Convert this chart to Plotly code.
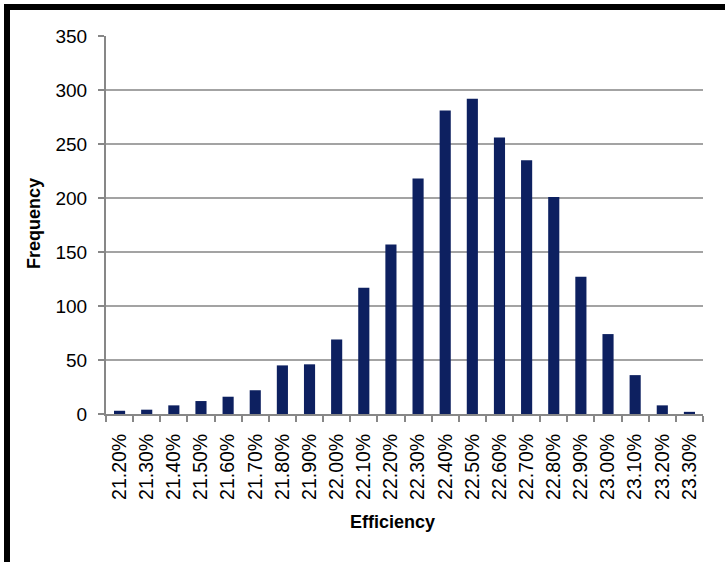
import plotly.graph_objects as go

# Efficiency bins and how many cells fell into each
efficiency_bins = ["21.20%", "21.30%", "21.40%", "21.50%", "21.60%", "21.70%",
                   "21.80%", "21.90%", "22.00%", "22.10%", "22.20%", "22.30%",
                   "22.40%", "22.50%", "22.60%", "22.70%", "22.80%", "22.90%",
                   "23.00%", "23.10%", "23.20%", "23.30%"]
frequency = [3, 4, 8, 12, 16, 22, 45, 46, 69, 117, 157, 218,
             281, 292, 256, 235, 201, 127, 74, 36, 8, 2]
y_ticks = [0, 50, 100, 150, 200, 250, 300, 350]

W, H = 725, 562
L, R, T, B = 106, 22, 36, 148
PW, PH = W - L - R, H - T - B

FONT = "Liberation Sans, Arial, sans-serif"
AXIS_GREY = "#878787"
GRID_GREY = "#a3a3a3"


def px_x(x):
    return (x - L) / PW


def px_y(y):
    return 1 - (y - T) / PH


fig = go.Figure(
    go.Bar(
        x=efficiency_bins,
        y=frequency,
        marker=dict(color="#0d2060", line=dict(width=0)),
    )
)

fig.update_layout(
    width=W,
    height=H,
    margin=dict(l=L, r=R, t=T, b=B, pad=0),
    paper_bgcolor="white",
    plot_bgcolor="white",
    bargap=0.59,
    showlegend=False,
    font=dict(family=FONT, size=19, color="black"),
)

fig.update_xaxes(
    type="category",
    tickangle=-90,
    showline=True,
    linecolor=AXIS_GREY,
    linewidth=2,
    ticks="outside",
    tickson="boundaries",
    ticklen=6,
    tickwidth=2,
    tickcolor=AXIS_GREY,
    showgrid=False,
    tickfont=dict(size=19.5),
    ticklabelstandoff=10,
)

fig.update_yaxes(
    range=[0, 350],
    tickvals=y_ticks,
    showline=True,
    linecolor=AXIS_GREY,
    linewidth=2,
    ticks="outside",
    ticklen=6,
    tickwidth=2,
    tickcolor=AXIS_GREY,
    showgrid=True,
    gridcolor=GRID_GREY,
    gridwidth=2,
    zeroline=False,
    tickfont=dict(size=19),
    ticklabelstandoff=7,
)

# Axis titles
fig.add_annotation(
    text="<b>Frequency</b>", textangle=-90,
    x=px_x(34), y=px_y(224), xref="paper", yref="paper",
    xanchor="center", yanchor="middle",
    showarrow=False, font=dict(size=18, family=FONT),
)
fig.add_annotation(
    text="<b>Efficiency</b>",
    x=px_x(392), y=px_y(522), xref="paper", yref="paper",
    xanchor="center", yanchor="middle",
    showarrow=False, font=dict(size=18, family=FONT),
)

# Black frame along the top and left edges
fig.add_shape(type="rect", xref="paper", yref="paper",
              x0=px_x(4), x1=px_x(W + 5), y0=px_y(10), y1=px_y(4),
              fillcolor="black", line=dict(width=0), layer="above")
fig.add_shape(type="rect", xref="paper", yref="paper",
              x0=px_x(4), x1=px_x(10), y0=px_y(H + 5), y1=px_y(4),
              fillcolor="black", line=dict(width=0), layer="above")

fig.write_html("out.html")
